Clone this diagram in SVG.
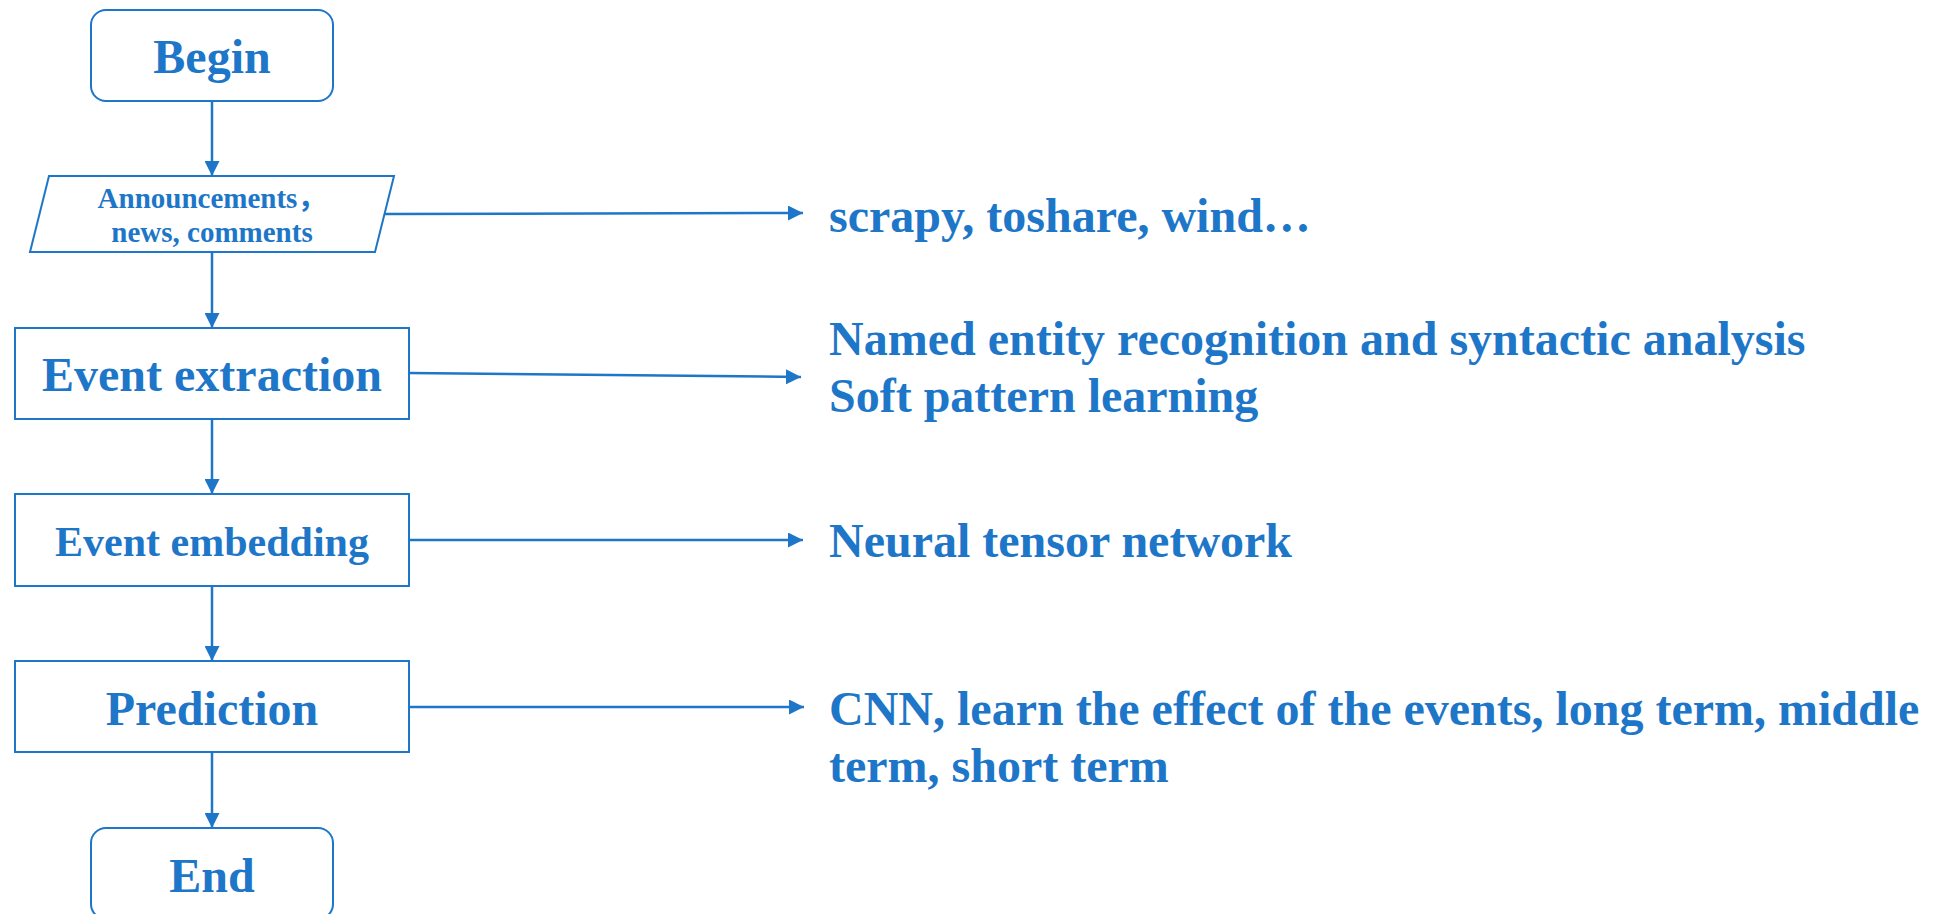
<svg xmlns="http://www.w3.org/2000/svg" width="1933" height="914" viewBox="0 0 1933 914">
<style>
.box{fill:#fff;stroke:#1d76c8;stroke-width:2}
.t{font-family:"Liberation Serif","Times New Roman","Noto Sans CJK SC",serif;font-weight:bold;fill:#1d76c8}
.c{text-anchor:middle}
.ln{stroke:#1d76c8;stroke-width:2.5;fill:none;marker-end:url(#ah)}
</style>
<defs>
<marker id="ah" markerUnits="userSpaceOnUse" markerWidth="15" markerHeight="15" refX="15" refY="7.5" orient="auto">
<path d="M0,0 L15,7.5 L0,15 z" fill="#1d76c8"/>
</marker>
</defs>
<rect width="1933" height="914" fill="#fff"/>
<g id="connectors">
<line class="ln" x1="212" y1="101" x2="212" y2="176"/>
<line class="ln" x1="212" y1="252" x2="212" y2="328"/>
<line class="ln" x1="212" y1="419" x2="212" y2="494"/>
<line class="ln" x1="212" y1="586" x2="212" y2="661"/>
<line class="ln" x1="212" y1="752" x2="212" y2="828"/>
<line class="ln" x1="385" y1="214" x2="803" y2="213"/>
<line class="ln" x1="409" y1="373" x2="801" y2="377"/>
<line class="ln" x1="409" y1="540" x2="803" y2="540"/>
<line class="ln" x1="409" y1="707" x2="804" y2="707"/>
</g>
<g id="begin">
<rect class="box" x="91" y="10" width="242" height="91" rx="15"/>
<text class="t c" x="212" y="73" font-size="48">Begin</text>
</g>
<g id="input">
<polygon class="box" points="49,176 394,176 375,252 30,252"/>
<text class="t c" x="212" y="208" font-size="29">Announcements，</text>
<text class="t c" x="212" y="242" font-size="29">news, comments</text>
</g>
<g id="extraction">
<rect class="box" x="15" y="328" width="394" height="91"/>
<text class="t c" x="212" y="391" font-size="48">Event extraction</text>
</g>
<g id="embedding">
<rect class="box" x="15" y="494" width="394" height="92"/>
<text class="t c" x="212" y="556" font-size="42">Event embedding</text>
</g>
<g id="prediction">
<rect class="box" x="15" y="661" width="394" height="91"/>
<text class="t c" x="212" y="725" font-size="48">Prediction</text>
</g>
<g id="end">
<rect class="box" x="91" y="828" width="242" height="91" rx="15"/>
<text class="t c" x="212" y="892" font-size="48">End</text>
</g>
<g id="labels">
<text class="t" x="829" y="232" font-size="48">scrapy, toshare, wind…</text>
<text class="t" x="829" y="355" font-size="48">Named entity recognition and syntactic analysis</text>
<text class="t" x="829" y="412" font-size="48">Soft pattern learning</text>
<text class="t" x="829" y="557" font-size="48">Neural tensor network</text>
<text class="t" x="829" y="725" font-size="48">CNN, learn the effect of the events, long term, middle</text>
<text class="t" x="829" y="782" font-size="48">term, short term</text>
</g>
</svg>
